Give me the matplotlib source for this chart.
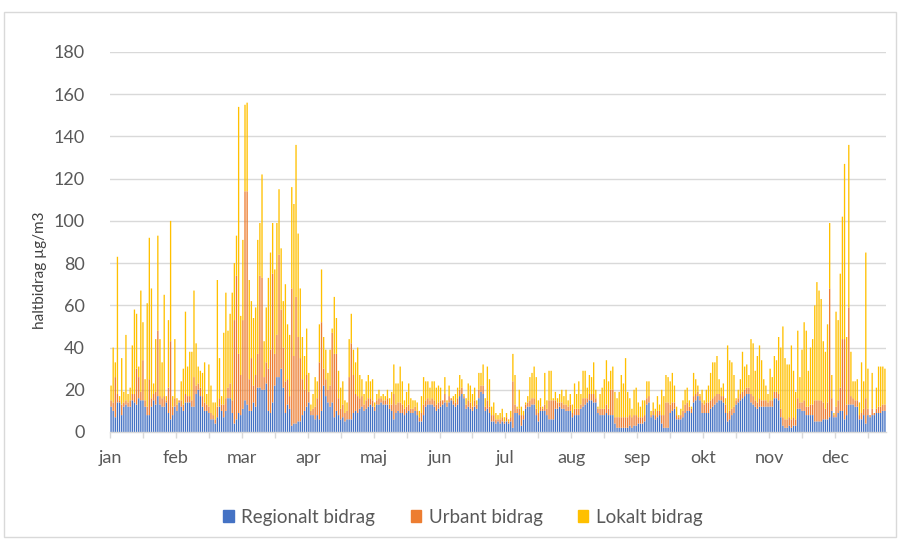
import numpy as np
import matplotlib
matplotlib.use('Agg')
import matplotlib.pyplot as plt
from matplotlib.patches import Rectangle, Patch

plt.rcParams['font.family'] = ['Lato', 'DejaVu Sans']

months = ['jan', 'feb', 'mar', 'apr', 'maj', 'jun', 'jul', 'aug', 'sep', 'okt', 'nov', 'dec']
series_names = ['Regionalt bidrag', 'Urbant bidrag', 'Lokalt bidrag']

# dygnsvärden, µg/m3 (dag 1-365)
regional = [
    12, 10, 7, 14, 14, 8, 12, 13, 12, 12,
    15, 14, 13, 16, 15, 15, 12, 8, 8, 12,
    15, 13, 17, 13, 12, 12, 14, 9, 6, 8,
    12, 10, 14, 12, 10, 14, 14, 14, 12, 12,
    18, 20, 17, 12, 10, 10, 9, 6, 6, 4,
    7, 12, 10, 7, 10, 16, 16, 9, 4, 6,
    9, 8, 11, 15, 13, 10, 10, 14, 12, 21,
    21, 20, 20, 23, 10, 9, 14, 22, 26, 26,
    30, 21, 9, 13, 11, 3, 4, 4, 5, 5,
    8, 10, 12, 14, 8, 8, 6, 8, 6, 10,
    22, 17, 14, 12, 14, 7, 10, 8, 6, 7,
    5, 6, 6, 6, 9, 10, 9, 11, 12, 10,
    11, 12, 13, 12, 10, 13, 13, 14, 13, 13,
    13, 11, 10, 6, 9, 10, 9, 9, 8, 9,
    10, 9, 9, 10, 8, 5, 5, 8, 12, 13,
    13, 13, 12, 10, 11, 12, 13, 14, 12, 14,
    15, 13, 12, 13, 17, 18, 16, 11, 12, 11,
    10, 12, 11, 16, 19, 18, 10, 11, 9, 5,
    5, 4, 5, 4, 5, 4, 5, 4, 5, 2,
    9, 9, 8, 3, 6, 11, 12, 12, 13, 13,
    8, 5, 10, 10, 10, 8, 6, 6, 6, 11,
    11, 12, 11, 11, 10, 10, 10, 7, 8, 8,
    8, 11, 12, 13, 14, 15, 15, 14, 14, 9,
    8, 8, 8, 9, 8, 8, 8, 4, 2, 2,
    2, 2, 2, 2, 3, 2, 3, 3, 4, 4,
    4, 5, 13, 14, 7, 8, 6, 7, 8, 4,
    2, 2, 2, 9, 10, 11, 6, 6, 6, 7,
    9, 10, 10, 9, 14, 15, 17, 15, 9, 9,
    9, 9, 11, 12, 13, 14, 15, 15, 14, 9,
    5, 6, 8, 9, 13, 14, 15, 16, 17, 18,
    18, 14, 13, 12, 11, 12, 12, 12, 12, 12,
    12, 12, 16, 16, 15, 7, 3, 2, 2, 3,
    2, 3, 3, 11, 11, 10, 10, 8, 8, 8,
    8, 5, 5, 5, 5, 6, 6, 6, 7, 10,
    7, 7, 9, 10, 10, 6, 8, 13, 13, 13,
    12, 12, 6, 6, 8, 4, 8, 7, 8, 8,
    9, 9, 9, 10, 10,
]
urban = [
    3, 4, 19, 4, 1, 5, 2, 2, 2, 3,
    3, 4, 17, 10, 4, 19, 3, 4, 17, 4,
    3, 6, 31, 4, 4, 5, 1, 12, 37, 4,
    4, 3, 1, 3, 3, 4, 3, 3, 3, 14,
    4, 3, 4, 5, 4, 3, 3, 3, 2, 2,
    5, 4, 3, 6, 6, 5, 7, 6, 49, 68,
    28, 19, 42, 99, 101, 15, 25, 8, 15, 16,
    53, 53, 6, 10, 20, 30, 61, 15, 20, 58,
    28, 19, 15, 12, 6, 65, 32, 60, 40, 30,
    17, 10, 15, 5, 2, 3, 6, 8, 27, 42,
    8, 8, 6, 10, 33, 30, 27, 8, 5, 6,
    4, 4, 20, 36, 18, 8, 8, 5, 5, 3,
    4, 4, 3, 3, 2, 2, 3, 2, 2, 2,
    3, 2, 3, 12, 4, 4, 5, 4, 3, 3,
    3, 2, 2, 2, 2, 2, 4, 5, 3, 3,
    2, 3, 3, 3, 3, 3, 2, 4, 2, 3,
    1, 2, 2, 3, 3, 3, 1, 2, 3, 3,
    2, 3, 2, 4, 3, 4, 2, 4, 3, 3,
    3, 2, 1, 2, 2, 1, 2, 1, 2, 22,
    4, 2, 3, 5, 2, 2, 2, 3, 3, 3,
    3, 4, 2, 1, 3, 3, 9, 9, 9, 4,
    3, 2, 3, 2, 3, 2, 3, 2, 3, 3,
    3, 2, 4, 3, 2, 3, 3, 4, 2, 2,
    3, 3, 3, 4, 3, 12, 12, 3, 5, 5,
    5, 5, 5, 5, 5, 5, 5, 5, 3, 3,
    3, 3, 3, 3, 1, 2, 2, 3, 2, 4,
    6, 12, 12, 4, 4, 3, 2, 1, 2, 3,
    4, 4, 2, 2, 3, 3, 2, 2, 5, 4,
    5, 5, 4, 4, 4, 4, 3, 2, 3, 4,
    4, 4, 3, 3, 2, 2, 3, 3, 3, 3,
    3, 4, 4, 3, 3, 4, 3, 3, 3, 2,
    3, 3, 3, 3, 3, 4, 4, 4, 4, 4,
    4, 4, 3, 5, 3, 4, 5, 4, 4, 5,
    5, 10, 10, 10, 10, 8, 5, 8, 61, 6,
    1, 5, 6, 11, 34, 38, 5, 46, 4, 3,
    3, 3, 2, 3, 3, 12, 3, 1, 3, 1,
    2, 3, 3, 3, 3,
]
local = [
    7, 26, 7, 65, 2, 22, 5, 31, 4, 6,
    23, 40, 26, 5, 48, 18, 10, 49, 67, 52,
    5, 25, 45, 27, 17, 48, 2, 32, 57, 5,
    28, 3, 0, 9, 17, 39, 14, 21, 23, 41,
    20, 8, 8, 11, 19, 5, 20, 13, 6, 8,
    60, 19, 4, 34, 50, 27, 33, 51, 27, 19,
    117, 28, 38, 41, 42, 47, 27, 32, 32, 54,
    25, 49, 17, 26, 43, 46, 24, 40, 53, 31,
    29, 22, 46, 26, 29, 48, 72, 72, 49, 33,
    20, 16, 22, 9, 3, 7, 14, 8, 18, 25,
    15, 14, 8, 17, 2, 27, 17, 13, 10, 11,
    6, 4, 18, 14, 12, 15, 23, 11, 8, 5,
    9, 11, 8, 10, 2, 3, 4, 1, 3, 2,
    4, 3, 6, 14, 10, 9, 17, 11, 4, 7,
    10, 5, 4, 3, 4, 3, 8, 13, 9, 8,
    6, 8, 9, 8, 8, 6, 0, 8, 1, 5,
    0, 2, 4, 5, 7, 4, 1, 3, 8, 8,
    6, 6, 2, 8, 6, 10, 4, 16, 13, 4,
    6, 3, 2, 3, 4, 2, 2, 1, 3, 13,
    14, 1, 9, 4, 2, 1, 3, 11, 12, 15,
    15, 6, 4, 1, 15, 4, 14, 14, 1, 4,
    2, 4, 6, 4, 7, 3, 5, 4, 12, 7,
    13, 5, 13, 13, 5, 9, 8, 15, 4, 1,
    7, 10, 14, 21, 13, 9, 11, 12, 9, 12,
    20, 16, 28, 12, 8, 4, 12, 13, 7, 5,
    8, 7, 8, 7, 2, 4, 3, 7, 3, 12,
    9, 13, 12, 11, 14, 8, 4, 1, 3, 5,
    7, 7, 3, 1, 11, 7, 3, 1, 6, 2,
    6, 8, 13, 17, 16, 18, 7, 4, 6, 3,
    32, 24, 22, 15, 1, 4, 7, 19, 11, 11,
    6, 26, 25, 14, 22, 25, 19, 10, 7, 4,
    15, 11, 17, 15, 27, 29, 43, 29, 26, 25,
    35, 22, 13, 32, 12, 25, 37, 36, 17, 27,
    31, 45, 56, 52, 48, 29, 27, 37, 31, 11,
    1, 45, 38, 54, 58, 83, 32, 77, 21, 8,
    9, 10, 6, 24, 13, 69, 19, 0, 17, 0,
    10, 19, 19, 18, 17,
]

colors = ['#4472C4', '#ED7D31', '#FFC000']
grid_c = '#D9D9D9'
text_c = '#595959'

regional = np.array(regional)
urban = np.array(urban)
local = np.array(local)
days = np.arange(len(regional))

fig = plt.figure(figsize=(9.01, 5.39), dpi=100)
fig.patches.append(Rectangle((4 / 901, 2 / 539), 892 / 901, 525 / 539, transform=fig.transFigure,
                             fill=False, edgecolor=grid_c, linewidth=1))
ax = fig.add_axes([110 / 901, 1 - 432 / 539, 776 / 901, 380 / 539])

# tunna staplar: snap av så att alla dagar syns (kantutjämnade som i Excel)
w = 0.62
ax.bar(days, regional, width=w, color=colors[0], linewidth=0, snap=False)
ax.bar(days, urban, width=w, bottom=regional, color=colors[1], linewidth=0, snap=False)
ax.bar(days, local, width=w, bottom=regional + urban, color=colors[2], linewidth=0, snap=False)

ax.set_ylim(0, 180)
ax.set_xlim(-0.5, len(days) - 0.5)
ax.set_yticks(range(0, 181, 20))
ax.yaxis.grid(True, color=grid_c, linewidth=1)
ax.set_axisbelow(True)
for s in ['top', 'right', 'left']:
    ax.spines[s].set_visible(False)
ax.spines['bottom'].set_color(grid_c)
ax.spines['bottom'].set_linewidth(1)

ax.set_xticks([-0.5 + 31 * k for k in range(12)])
ax.set_xticklabels(months)
ax.set_xticks([15 + 31 * k for k in range(12)], minor=True)
ax.tick_params(axis='x', which='both', direction='out', length=4, color=grid_c, width=1)
ax.tick_params(axis='x', which='major', pad=9, labelsize=13, labelcolor=text_c)
ax.tick_params(axis='y', length=0, pad=18, labelsize=13, labelcolor=text_c)

fig.text(40 / 901, 1 - 270 / 539, 'haltbidrag µg/m3', rotation=90, ha='center', va='center',
         fontsize=11, color='#404040')

handles = [Patch(color=c) for c in colors]
fig.legend(handles, series_names, loc='center', bbox_to_anchor=(463 / 901, 1 - 517 / 539),
           ncol=3, frameon=False, fontsize=13.5, labelcolor=text_c, handlelength=0.55,
           handleheight=0.55, handletextpad=0.4, columnspacing=1.9)

fig.savefig('out.png', dpi=100)
